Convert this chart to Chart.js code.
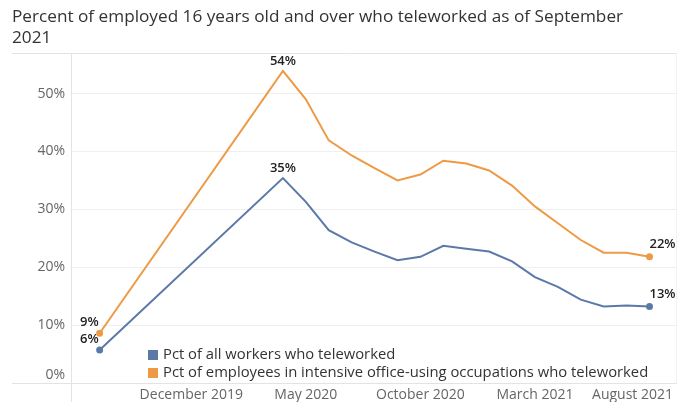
<!DOCTYPE html>
<html>
<head>
<meta charset="utf-8">
<script src="https://cdn.jsdelivr.net/npm/chart.js@4.4.0/dist/chart.umd.min.js"></script>
<style>
  body { margin: 0; background: #fff; }
  #wrap { position: relative; width: 690px; height: 402px; }
  #title { position: absolute; left: 12px; top: 5px; font: 17.2px 'Open Sans', sans-serif; color: #333; line-height: 21px; }
  canvas { display: block; }
</style>
</head>
<body>
<div id="wrap">
  <canvas id="chart" width="690" height="402"></canvas>
  <div id="title">Percent of employed 16 years old and over who teleworked as of September<br>2021</div>
</div>
<script>
// Periods and their slot on the x axis (the chart leaves a wide gap after Dec 2019)
const periods = ['Dec 2019', 'May 2020', 'Jun 2020', 'Jul 2020', 'Aug 2020', 'Sep 2020', 'Oct 2020', 'Nov 2020', 'Dec 2020',
    'Jan 2021', 'Feb 2021', 'Mar 2021', 'Apr 2021', 'May 2021', 'Jun 2021', 'Jul 2021', 'Aug 2021', 'Sep 2021'];
const periodSlots = [0, 8, 9, 10, 11, 12, 13, 14, 15, 16, 17, 18, 19, 20, 21, 22, 23, 24];

const allWorkers = [5.7, 35.4, 31.3, 26.4, 24.3, 22.7, 21.2, 21.8, 23.7, 23.2, 22.7, 21.0, 18.3, 16.6, 14.4, 13.2, 13.4, 13.2];
const officeWorkers = [8.6, 53.9, 49.0, 41.9, 39.3, 37.1, 35.0, 36.0, 38.4, 37.9, 36.7, 34.1, 30.5, 27.6, 24.7, 22.5, 22.5, 21.8];

const seriesNames = ['Pct of all workers who teleworked', 'Pct of employees in intensive office-using occupations who teleworked'];
const seriesColors = ['#5b79a8', '#ee9a45'];

// x axis tick labels and the slot each one sits under
const tickLabels = ['December 2019', 'May 2020', 'October 2020', 'March 2021', 'August 2021'];
const tickSlots = [4, 9, 14, 19, 24];

// which points get a value label
const valueLabels = [
    { series: 0, point: 0, place: 'start' },
    { series: 1, point: 0, place: 'start' },
    { series: 0, point: 1, place: 'peak' },
    { series: 1, point: 1, place: 'peak' },
    { series: 0, point: 17, place: 'end' },
    { series: 1, point: 17, place: 'end' }
];

const toPoints = values => values.map((v, i) => ({ x: periodSlots[i], y: v }));
const endDots = ctx => (ctx.dataIndex === 0 || ctx.dataIndex === periods.length - 1) ? 2.5 : 0;

const framePlugin = {
    id: 'frame',
    beforeDatasetsDraw(chart) {
        const { ctx, chartArea: a } = chart;
        ctx.save();
        ctx.lineWidth = 1;
        ctx.strokeStyle = '#e3e3e3';
        ctx.beginPath();
        ctx.moveTo(12, a.top + 0.5); ctx.lineTo(a.right, a.top + 0.5);
        ctx.moveTo(12, a.bottom + 0.5); ctx.lineTo(a.right, a.bottom + 0.5);
        ctx.moveTo(a.left + 0.5, a.top); ctx.lineTo(a.left + 0.5, chart.height);
        ctx.stroke();
        ctx.strokeStyle = '#f2f2f2';
        ctx.beginPath();
        ctx.moveTo(a.right - 0.5, a.top); ctx.lineTo(a.right - 0.5, a.bottom);
        ctx.stroke();
        // the 0% label sits just above the baseline
        ctx.font = '14px "Open Sans", sans-serif';
        ctx.fillStyle = '#666';
        ctx.textAlign = 'right';
        ctx.textBaseline = 'middle';
        ctx.fillText('0%', a.left - 6, a.bottom - 8);
        ctx.restore();
    },
    afterDraw(chart) {
        const { ctx, chartArea: a } = chart;
        const x = chart.scales.x;
        ctx.save();
        // x tick labels
        ctx.font = '14px "Open Sans", sans-serif';
        ctx.fillStyle = '#666';
        ctx.textBaseline = 'middle';
        ctx.textAlign = 'left';
        tickLabels.forEach((t, i) => {
            const w = ctx.measureText(t).width;
            let left = x.getPixelForValue(tickSlots[i]) - w / 2;
            left = Math.min(left, a.right - 4 - w);
            ctx.fillText(t, left, a.bottom + 12);
        });
        // value labels
        ctx.font = '600 13px "Open Sans", sans-serif';
        ctx.fillStyle = '#222';
        valueLabels.forEach(l => {
            const el = chart.getDatasetMeta(l.series).data[l.point];
            const v = chart.data.datasets[l.series].data[l.point].y;
            const text = Math.round(v) + '%';
            if (l.place === 'start') {
                ctx.textAlign = 'right';
                ctx.fillText(text, el.x - 1, el.y - 11);
            } else if (l.place === 'peak') {
                ctx.textAlign = 'center';
                ctx.fillText(text, el.x, el.y - 10);
            } else {
                ctx.textAlign = 'left';
                ctx.fillText(text, el.x, el.y - 12);
            }
        });
        // legend
        ctx.font = '14.8px "Open Sans", sans-serif';
        ctx.textAlign = 'left';
        chart.data.datasets.forEach((ds, i) => {
            const y = a.bottom - 28 + i * 18;
            ctx.fillStyle = ds.borderColor;
            ctx.fillRect(a.left + 77, y - 5, 10, 10);
            ctx.fillStyle = '#333';
            ctx.fillText(ds.label, a.left + 92, y);
        });
        ctx.restore();
    }
};

new Chart(document.getElementById('chart'), {
    type: 'line',
    data: {
        datasets: [
            {
                label: seriesNames[0],
                data: toPoints(allWorkers),
                borderColor: seriesColors[0],
                backgroundColor: seriesColors[0],
                borderWidth: 2,
                pointRadius: endDots,
                tension: 0
            },
            {
                label: seriesNames[1],
                data: toPoints(officeWorkers),
                borderColor: seriesColors[1],
                backgroundColor: seriesColors[1],
                borderWidth: 2,
                pointRadius: endDots,
                tension: 0
            }
        ]
    },
    options: {
        responsive: false,
        animation: false,
        layout: { padding: { top: 53, right: 13, bottom: 19, left: 0 } },
        plugins: {
            legend: { display: false },
            tooltip: { enabled: false }
        },
        scales: {
            x: {
                type: 'linear',
                display: false,
                min: -1.25,
                max: 25.2
            },
            y: {
                min: 0,
                max: 57,
                afterBuildTicks: scale => {
                    scale.ticks = scale.ticks.filter(t => t.value % 10 === 0);
                },
                afterFit: scale => { scale.width = 71; },
                grid: {
                    color: ctx => ctx.tick && ctx.tick.value === 0 ? 'rgba(0,0,0,0)' : '#efefef',
                    drawTicks: false
                },
                border: { display: false },
                ticks: {
                    stepSize: 10,
                    padding: 6,
                    color: '#666',
                    font: { family: 'Open Sans', size: 14 },
                    callback: v => v === 0 ? '' : v + '%'
                }
            }
        }
    },
    plugins: [framePlugin]
});
</script>
</body>
</html>
